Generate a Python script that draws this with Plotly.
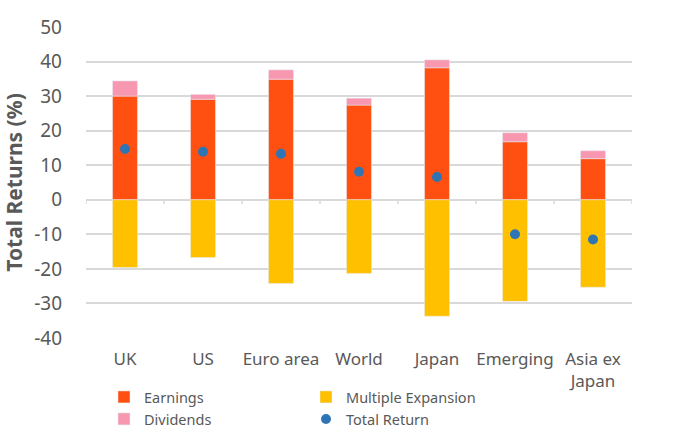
import plotly.graph_objects as go

categories = ["UK", "US", "Euro area", "World", "Japan", "Emerging", "Asia ex<br>Japan"]
earnings = [30.0, 29.1, 34.9, 27.4, 38.2, 16.8, 11.9]
dividends = [4.4, 1.4, 2.7, 2.0, 2.3, 2.6, 2.3]
multiple_expansion = [-19.6, -16.7, -24.2, -21.3, -33.7, -29.4, -25.3]
total_return = [14.7, 13.9, 13.3, 8.1, 6.6, -10.0, -11.5]
y_ticks = [-40, -30, -20, -10, 0, 10, 20, 30, 40, 50]
y_tick_labels = [str(v) for v in y_ticks]

FONT = "Noto Sans"
GREY = "#595959"
GRID = "#D9D9D9"

fig = go.Figure()
fig.add_trace(go.Bar(x=categories, y=earnings, name="Earnings", marker_color="#FF5011",
                     width=0.32, legend="legend"))
fig.add_trace(go.Bar(x=categories, y=multiple_expansion, name="Multiple Expansion",
                     marker_color="#FFC000", width=0.32, legend="legend"))
fig.add_trace(go.Bar(x=categories, y=dividends, name="Dividends", marker_color="#F898B0",
                     width=0.32, legend="legend2"))
fig.add_trace(go.Scatter(x=categories, y=total_return, name="Total Return", mode="markers",
                         marker=dict(color="#2E75B6", size=10), legend="legend2"))

# tick marks on the zero line at category boundaries
shapes = []
for i in range(len(categories) + 1):
    shapes.append(dict(type="line", xref="x", yref="y", x0=i - 0.5, x1=i - 0.5, y0=0, y1=-1.2,
                       line=dict(color=GRID, width=1.5)))

legend_common = dict(orientation="h", xref="container", yref="container", xanchor="left",
                     yanchor="middle", font=dict(family=FONT, size=14.5, color=GREY),
                     bgcolor="rgba(0,0,0,0)", entrywidth=157, itemwidth=30, tracegroupgap=0)

fig.update_layout(
    width=697, height=439,
    margin=dict(l=86, r=65, t=27, b=101, autoexpand=False),
    plot_bgcolor="white", paper_bgcolor="white",
    barmode="relative",
    font=dict(family=FONT, color=GREY),
    shapes=shapes,
    xaxis=dict(showgrid=False, showline=False, ticks="", tickfont=dict(size=17, color=GREY),
               ticklabelstandoff=9, range=[-0.5, len(categories) - 0.5], automargin=False),
    yaxis=dict(range=[-40, 50], tickvals=y_ticks, ticktext=y_tick_labels,
               showgrid=True, gridcolor=GRID, gridwidth=1.5,
               zeroline=True, zerolinecolor=GRID, zerolinewidth=1.5, automargin=False,
               tickfont=dict(size=19, color=GREY), ticklabelstandoff=23,
               title=dict(text="<b>Total Returns (%)</b>", font=dict(size=21, color=GREY), standoff=6)),
    legend=dict(legend_common, x=104 / 697, y=1 - 397 / 439),
    legend2=dict(legend_common, x=104 / 697, y=1 - 419 / 439),
)

fig.write_html("out.html", post_script="document.body.style.margin='0';",
               config={"displayModeBar": False})
